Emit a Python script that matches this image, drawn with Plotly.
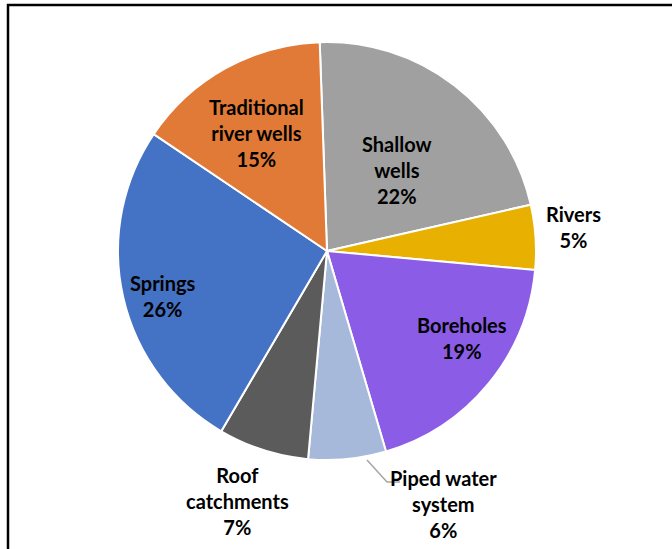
import plotly.graph_objects as go

# Data
categories = ["Shallow wells", "Rivers", "Boreholes", "Piped water system",
              "Roof catchments", "Springs", "Traditional river wells"]
display_names = ["Shallow<br>wells", "Rivers", "Boreholes", "Piped water<br>system",
                 "Roof<br>catchments", "Springs", "Traditional<br>river wells"]
values = [22, 5, 19, 6, 7, 26, 15]
colors = ["#A0A0A0", "#E8B000", "#8B5CE6", "#A6B9DA", "#5B5B5B", "#4472C4", "#E07A36"]
# label block centres (px, page coordinates)
label_pos = [(397, 170), (573, 227), (462, 338), (443, 504),
             (237, 501), (163, 296), (256, 133)]

W, H = 672, 549
cx, cy, r = 327, 251, 209

FONT = "Lato"
FSIZE = 20
fig = go.Figure(go.Pie(
    labels=categories,
    values=values,
    textinfo="none",
    marker=dict(colors=colors, line=dict(color="white", width=2)),
    sort=False,
    direction="clockwise",
    rotation=-2,
    showlegend=False,
    hoverinfo="label+percent",
    domain=dict(x=[(cx - r) / W, (cx + r) / W],
                y=[(H - cy - r) / H, (H - cy + r) / H]),
))

total = sum(values)

def px(x, y):
    return x / W, 1 - y / H

ann = []
for name, disp, v, (ax_, ay_) in zip(categories, display_names, values, label_pos):
    xx, yy = px(ax_, ay_)
    ann.append(dict(x=xx, y=yy, xref="paper", yref="paper", showarrow=False,
                    text=f"{disp}<br>{v / total * 100:.0f}%", align="center",
                    font=dict(family=FONT, size=FSIZE, color="black", weight="bold"),
                    xanchor="center", yanchor="middle"))

# leader line for Piped water system
p1 = px(367, 460); p2 = px(387, 482); p3 = px(400, 482)
shapes = [
    dict(type="path", xref="paper", yref="paper",
         path=f"M {p1[0]},{p1[1]} L {p2[0]},{p2[1]} L {p3[0]},{p3[1]}",
         line=dict(color="#A6A6A6", width=1.5)),
    dict(type="rect", xref="paper", yref="paper",
         x0=8 / W, x1=1.2, y0=-0.2, y1=1 - 5 / H,
         line=dict(color="black", width=2.5), fillcolor="rgba(0,0,0,0)"),
]

fig.update_layout(
    width=W, height=H,
    margin=dict(l=0, r=0, t=0, b=0),
    paper_bgcolor="white",
    plot_bgcolor="white",
    annotations=ann,
    shapes=shapes,
)

fig.write_html("out.html",
               config={"displayModeBar": False},
               post_script="document.body.style.margin='0px';document.body.style.overflow='hidden';")
